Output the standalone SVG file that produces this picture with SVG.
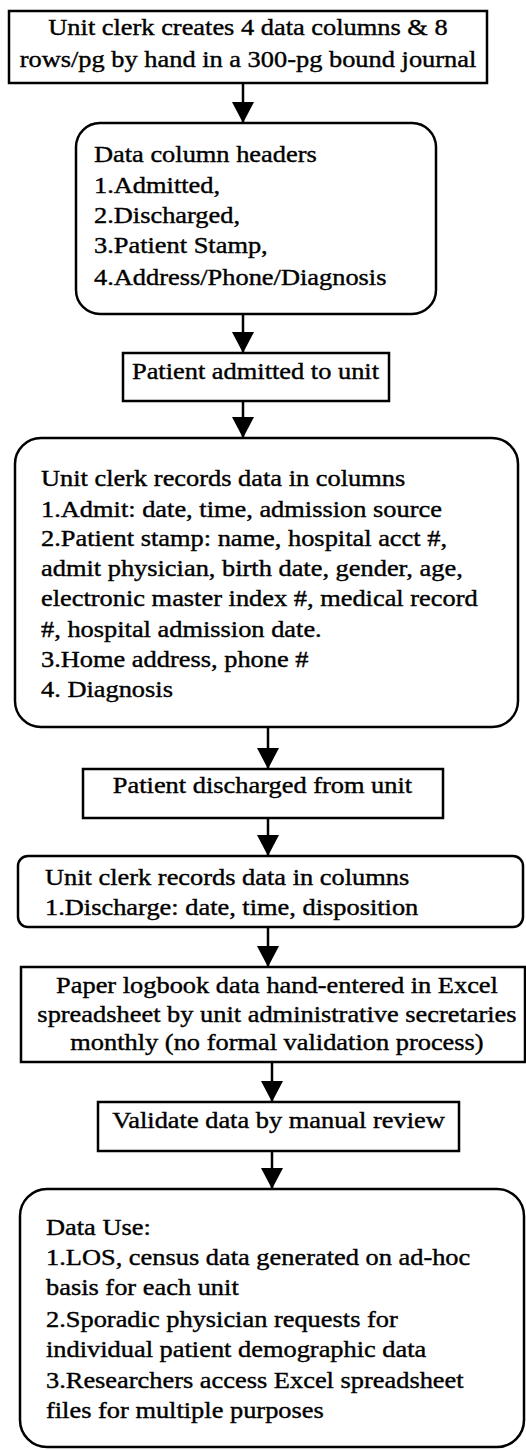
<svg xmlns="http://www.w3.org/2000/svg" width="526" height="1450" viewBox="0 0 526 1450">
<style>
.box{fill:#fff;stroke:#000;stroke-width:2.5}
.t{font-family:"Liberation Serif","Times New Roman",serif;font-size:24px;fill:#000;stroke:#000;stroke-width:0.4}
.c{text-anchor:middle}
.edge{stroke:#000;stroke-width:2.5;fill:none;marker-end:url(#ah)}
</style>
<defs>
<marker id="ah" markerUnits="userSpaceOnUse" markerWidth="22" markerHeight="22" refX="21" refY="11" orient="auto">
<path d="M0,0 L21,11 L0,22 z" fill="#000"/>
</marker>
</defs>
<rect width="526" height="1450" fill="#fff"/>
<g id="connectors">
<line class="edge" x1="243" y1="83" x2="243" y2="123"/>
<line class="edge" x1="243" y1="314" x2="243" y2="353"/>
<line class="edge" x1="243" y1="401" x2="243" y2="438"/>
<line class="edge" x1="268" y1="727" x2="268" y2="769"/>
<line class="edge" x1="268" y1="818" x2="268" y2="856"/>
<line class="edge" x1="268" y1="927" x2="268" y2="967"/>
<line class="edge" x1="272" y1="1062" x2="272" y2="1102"/>
<line class="edge" x1="272" y1="1151" x2="272" y2="1189"/>
</g>
<g id="n1">
<rect class="box" x="9" y="11" width="478" height="72"/>
<g transform="scale(1.1,1)">
<text class="t c" x="225.45" y="35">Unit clerk creates 4 data columns &amp; 8</text>
<text class="t c" x="225.45" y="67">rows/pg by hand in a 300-pg bound journal</text>
</g>
</g>
<g id="n2">
<rect class="box" x="76" y="123" width="360" height="191" rx="24" ry="24"/>
<g transform="scale(1.1,1)">
<text class="t" x="85.45" y="162">Data column headers</text>
<text class="t" x="85.45" y="193">1.Admitted,</text>
<text class="t" x="85.45" y="223">2.Discharged,</text>
<text class="t" x="85.45" y="253">3.Patient Stamp,</text>
<text class="t" x="85.45" y="285">4.Address/Phone/Diagnosis</text>
</g>
</g>
<g id="n3">
<rect class="box" x="123" y="353" width="266" height="48"/>
<g transform="scale(1.1,1)">
<text class="t c" x="232.27" y="379">Patient admitted to unit</text>
</g>
</g>
<g id="n4">
<rect class="box" x="15" y="438" width="503" height="289" rx="26" ry="26"/>
<g transform="scale(1.1,1)">
<text class="t" x="37.27" y="486">Unit clerk records data in columns</text>
<text class="t" x="37.27" y="517">1.Admit: date, time, admission source</text>
<text class="t" x="37.27" y="546">2.Patient stamp: name, hospital acct #,</text>
<text class="t" x="37.27" y="576">admit physician, birth date, gender, age,</text>
<text class="t" x="37.27" y="606">electronic master index #, medical record</text>
<text class="t" x="37.27" y="637">#, hospital admission date.</text>
<text class="t" x="37.27" y="667">3.Home address, phone #</text>
<text class="t" x="37.27" y="697">4. Diagnosis</text>
</g>
</g>
<g id="n5">
<rect class="box" x="83" y="769" width="360" height="49"/>
<g transform="scale(1.1,1)">
<text class="t c" x="238.64" y="793">Patient discharged from unit</text>
</g>
</g>
<g id="n6">
<rect class="box" x="18" y="856" width="505" height="71" rx="10" ry="10"/>
<g transform="scale(1.1,1)">
<text class="t" x="40.91" y="885">Unit clerk records data in columns</text>
<text class="t" x="40.91" y="915">1.Discharge: date, time, disposition</text>
</g>
</g>
<g id="n7">
<rect class="box" x="21" y="967" width="504" height="95"/>
<g transform="scale(1.1,1)">
<text class="t c" x="251.82" y="993">Paper logbook data hand-entered in Excel</text>
<text class="t c" x="251.82" y="1022">spreadsheet by unit administrative secretaries</text>
<text class="t c" x="251.82" y="1050">monthly (no formal validation process)</text>
</g>
</g>
<g id="n8">
<rect class="box" x="98" y="1102" width="361" height="49"/>
<g transform="scale(1.1,1)">
<text class="t c" x="253.18" y="1128">Validate data by manual review</text>
</g>
</g>
<g id="n9">
<rect class="box" x="20" y="1189" width="504" height="258" rx="27" ry="27"/>
<g transform="scale(1.1,1)">
<text class="t" x="41.82" y="1235">Data Use:</text>
<text class="t" x="41.82" y="1265">1.LOS, census data generated on ad-hoc</text>
<text class="t" x="41.82" y="1295">basis for each unit</text>
<text class="t" x="41.82" y="1327">2.Sporadic physician requests for</text>
<text class="t" x="41.82" y="1357">individual patient demographic data</text>
<text class="t" x="41.82" y="1388">3.Researchers access Excel spreadsheet</text>
<text class="t" x="41.82" y="1418">files for multiple purposes</text>
</g>
</g>
</svg>
